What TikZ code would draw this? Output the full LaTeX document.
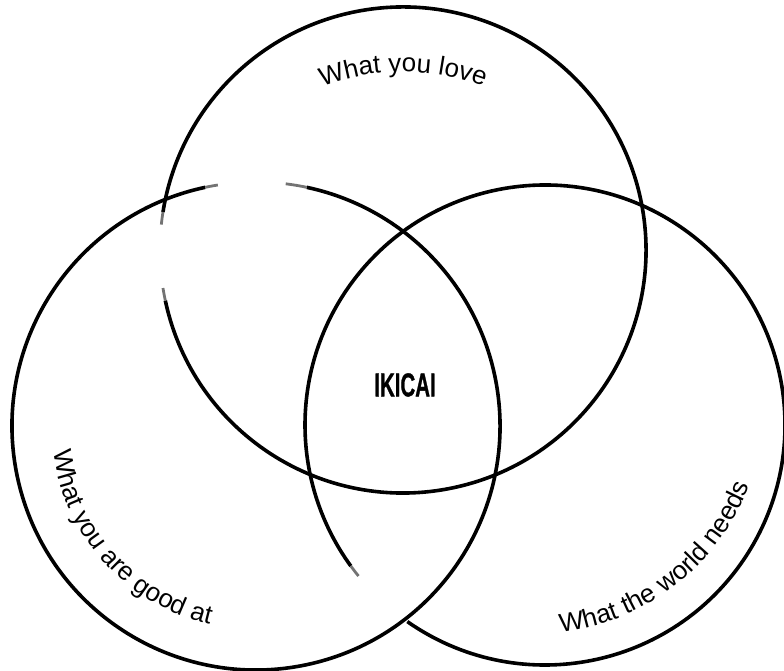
\documentclass[tikz,border=0pt]{standalone}
\usepackage{fontspec}
\usepackage{graphicx}
\setmainfont{Liberation Sans}
\newfontface\ikiface{Liberation Sans Bold}[FakeBold=1.2]
\usetikzlibrary{decorations.text}
\newcommand\lblfont{\fontsize{26}{26}\selectfont}
\newcommand\ikifont{\fontsize{33}{33}\ikiface}

\begin{document}
\begin{tikzpicture}[x=1pt,y=1pt,
  ring/.style={line width=3.6pt, black},
  fade/.style={line width=2.8pt, black!55},
  curvedlabel/.style={decorate, decoration={text along path, text align=center, text color=black}}]
\useasboundingbox (0,0) rectangle (784,671);
\coordinate (love) at (403,421);
\coordinate (good) at (256,245);
\coordinate (world) at (545,246);
\coordinate (lovetxt) at (403,371);
\coordinate (worldtxt) at (534,267);

% What you love circle (gap on the left)
\draw[ring] ([shift={(192:243)}]love) arc[start angle=192, end angle=531, radius=243];
\draw[fade] ([shift={(189:243)}]love) arc[start angle=189, end angle=192, radius=243];
\draw[fade] ([shift={(531:243)}]love) arc[start angle=531, end angle=534, radius=243];

% What you are good at circle (gap on the top)
\draw[ring] ([shift={(102:244)}]good) arc[start angle=102, end angle=438, radius=244];
\draw[fade] ([shift={(99:244)}]good) arc[start angle=99, end angle=102, radius=244];
\draw[fade] ([shift={(438:244)}]good) arc[start angle=438, end angle=443, radius=244];

% What the world needs circle (gap at lower left)
\draw[ring] ([shift={(235:240)}]world) arc[start angle=235, end angle=576, radius=240];
\draw[fade] ([shift={(576:240)}]world) arc[start angle=576, end angle=579, radius=240];

% labels
\path[curvedlabel, decoration={text={|\lblfont|What you love}}]
  ([shift={(120:228)}]lovetxt) arc[start angle=120, end angle=60, radius=228];
\path[curvedlabel, decoration={text={|\lblfont|What you are good at}}]
  ([shift={(174:204)}]good) arc[start angle=174, end angle=270, radius=204];
\path[curvedlabel, decoration={text={|\lblfont|What the world needs}}]
  ([shift={(263:230)}]worldtxt) arc[start angle=263, end angle=353, radius=230];

\node[inner sep=0pt] (ikigai) at (405,286) {\ikifont\scalebox{0.62}[1]{IKICAI}};
\end{tikzpicture}
\end{document}
